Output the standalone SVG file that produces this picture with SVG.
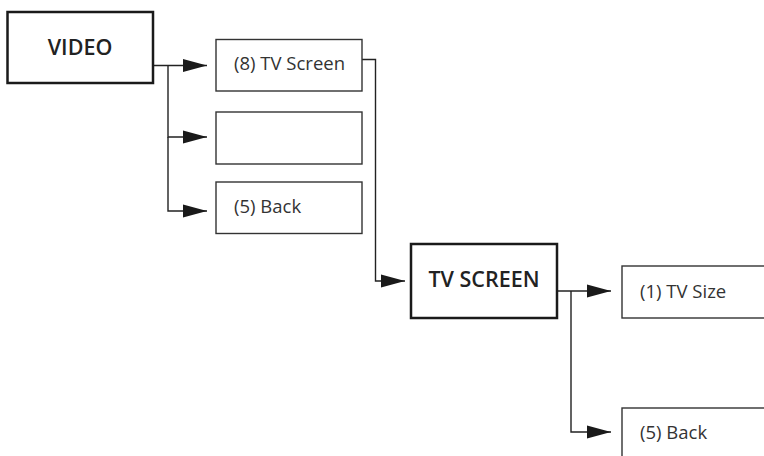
<svg xmlns="http://www.w3.org/2000/svg" width="764" height="456" viewBox="0 0 764 456">
<style>
.main{fill:#fff;stroke:#1a1a1a;stroke-width:2.5}
.sub{fill:#fff;stroke:#333;stroke-width:1.4}
.t-main{font-family:"Open Sans","Liberation Sans",sans-serif;font-weight:600;font-size:21.5px;fill:#222;text-anchor:middle}
.t-sub{font-family:"Open Sans","Liberation Sans",sans-serif;font-weight:400;font-size:18.5px;fill:#333}
.conn{fill:none;stroke:#222;stroke-width:1.4}
</style>
<defs>
<marker id="arr" markerUnits="userSpaceOnUse" markerWidth="24" markerHeight="14" refX="24" refY="7" orient="auto">
<path d="M0,0.6 L24,7 L0,13.4 Z" fill="#1a1a1a"/>
</marker>
</defs>
<rect width="764" height="456" fill="#fff"/>
<g id="connectors">
<path class="conn" d="M153,65.5 H207" marker-end="url(#arr)"/>
<path class="conn" d="M168,65.5 V137 H207" marker-end="url(#arr)"/>
<path class="conn" d="M168,137 V211 H207" marker-end="url(#arr)"/>
<path class="conn" d="M362,59.5 H375.5 V281 H405" marker-end="url(#arr)"/>
<path class="conn" d="M557,291 H611" marker-end="url(#arr)"/>
<path class="conn" d="M571,291 V432 H611" marker-end="url(#arr)"/>
</g>
<g id="video">
<rect class="main" x="7.5" y="12" width="145.5" height="71"/>
<text class="t-main" x="80" y="55">VIDEO</text>
</g>
<g id="tv-screen-item">
<rect class="sub" x="216" y="39.5" width="146" height="51.5"/>
<text class="t-sub" x="234" y="70">(8) TV Screen</text>
</g>
<g id="empty-item">
<rect class="sub" x="216" y="112" width="146" height="52"/>
</g>
<g id="back-item">
<rect class="sub" x="216" y="182" width="146" height="51.5"/>
<text class="t-sub" x="234" y="213">(5) Back</text>
</g>
<g id="tv-screen">
<rect class="main" x="411" y="244" width="146" height="74"/>
<text class="t-main" x="484" y="287">TV SCREEN</text>
</g>
<g id="tv-size-item">
<rect class="sub" x="622" y="266" width="160" height="52"/>
<text class="t-sub" x="640" y="297.5">(1) TV Size</text>
</g>
<g id="back-item-2">
<rect class="sub" x="622" y="408" width="160" height="60"/>
<text class="t-sub" x="640" y="439">(5) Back</text>
</g>
</svg>
